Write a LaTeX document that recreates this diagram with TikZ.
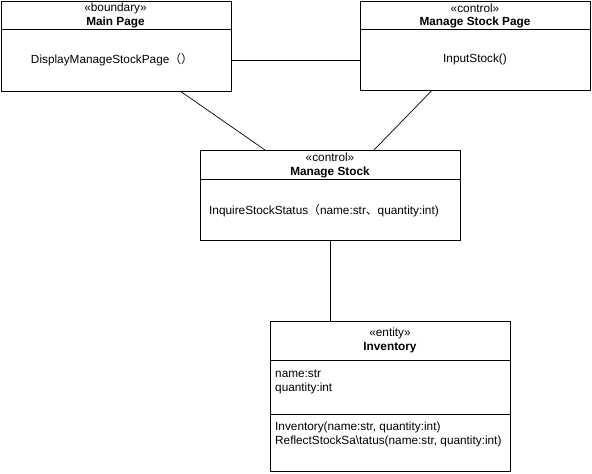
\documentclass[tikz,border=0pt]{standalone}
\usepackage{fontspec}
\setmainfont{Liberation Sans}
\newfontfamily\cjk{Noto Sans CJK SC}
\usetikzlibrary{calc}
\begin{document}
\begin{tikzpicture}[x=1pt,y=-1pt,
  umlbox/.style={draw=black,line width=0.8pt,fill=white,rectangle,inner sep=0pt,anchor=north west},
  lbl/.style={inner sep=0pt,font=\fontsize{11.8}{14}\selectfont},
  blbl/.style={inner sep=0pt,font=\fontsize{11.8}{14}\selectfont\bfseries},
  conn/.style={draw=black,line width=0.7pt}]
\useasboundingbox (0,0) rectangle (592,474);
% boxes
\node[umlbox,minimum width=230pt,minimum height=90pt] (main) at (0.5,0.5) {};
\node[umlbox,minimum width=230pt,minimum height=89pt] (msp) at (360,0.5) {};
\node[umlbox,minimum width=260pt,minimum height=90pt] (ms) at (200,150) {};
\node[umlbox,minimum width=240pt,minimum height=150pt] (inv) at (270,320.5) {};
% dividers
\draw[conn] (0.5,29) -- (230.5,29);
\draw[conn] (360,29) -- (590,29);
\draw[conn] (200,179.5) -- (460,179.5);
\draw[conn] (270,360.5) -- (510,360.5);
\draw[conn] (270,414) -- (510,414);
% texts main page
\node[lbl] (mainst) at (115.5,8) {«boundary»};
\node[blbl] (mainnm) at (115.5,22.5) {Main Page};
\node[lbl] (mainop) at (112,60) {DisplayManageStockPage{\cjk （）}};
% manage stock page
\node[lbl] (mspst) at (475,8) {«control»};
\node[blbl] (mspnm) at (475,22.5) {Manage Stock Page};
\node[lbl] (mspop) at (475,59.5) {InputStock()};
% manage stock
\node[lbl] (msst) at (330,157.5) {«control»};
\node[blbl] (msnm) at (330,172.5) {Manage Stock};
\node[lbl,anchor=west] (msop) at (209,211) {InquireStockStatus{\cjk （}name:str{\cjk 、}quantity:int)};
% inventory
\node[lbl] (invst) at (390,333) {«entity»};
\node[blbl] (invnm) at (390,348) {Inventory};
\node[lbl,anchor=west] (inva1) at (275,374) {name:str};
\node[lbl,anchor=west] (inva2) at (275,388) {quantity:int};
\node[lbl,anchor=west] (invm1) at (275,427) {Inventory(name:str, quantity:int)};
\node[lbl,anchor=west] (invm2) at (275,441) {ReflectStockSa\textbackslash tatus(name:str, quantity:int)};
% connectors
\draw[conn] (main.east |- mainop) -- (msp.west |- mainop);
\draw[conn] ($(main.south west)+(180,0)$) -- ($(ms.north west)+(65,0)$);
\draw[conn] ($(msp.south west)+(72,0)$) -- ($(ms.north west)+(174,0)$);
\draw[conn] ($(ms.south west)+(130,0)$) -- (inv.north -| {$(ms.south west)+(130,0)$});
\end{tikzpicture}
\end{document}
